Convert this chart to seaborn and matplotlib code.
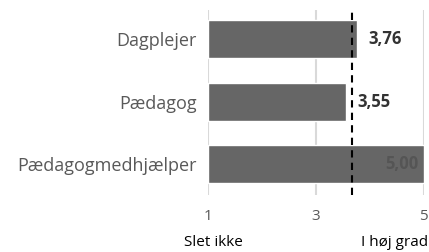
import matplotlib
matplotlib.use("Agg")
import matplotlib.pyplot as plt
import seaborn as sns
import pandas as pd

categories = ["Dagplejer", "Pædagog", "Pædagogmedhjælper"]
values = [3.76, 3.55, 5.00]
labels = ["3,76", "3,55", "5,00"]
mean_line = 3.67
xticks = [1, 3, 5]

sns.set_style("white")
plt.rcParams['font.family'] = ['Open Sans', 'DejaVu Sans']

df = pd.DataFrame({"cat": categories, "val": values})
fig = plt.figure(figsize=(4.29, 2.52), dpi=100)
ax = fig.add_axes([0.485, 0.226, 0.503, 0.734])

for x in xticks:
    ax.axvline(x, color="#d9d9d9", lw=1.5, zorder=0)

sns.barplot(data=df, y="cat", x="val", orient="h", color="#666666",
            saturation=1, width=0.61, ax=ax, zorder=2)
for p in ax.patches:
    w = p.get_width()
    p.set_width(w - 1)
    p.set_x(1)

ax.axvline(mean_line, color="black", lw=1.5, ls=(0, (3.5, 2.5)), zorder=3)

for i, (v, lab) in enumerate(zip(values, labels)):
    if v >= 4.9:
        ax.text(v - 0.1, i, lab, ha="right", va="center", fontsize=12,
                fontweight="bold", color="#555555", zorder=4)
    elif v > mean_line:
        ax.text(v + 0.22, i, lab, ha="left", va="center", fontsize=12,
                fontweight="bold", color="#333333", zorder=4)
    else:
        ax.text(mean_line + 0.1, i, lab, ha="left", va="center", fontsize=12,
                fontweight="bold", color="#333333", zorder=4)

ax.set_xlim(1, 5)
ax.set_ylim(2.5, -0.47)
ax.set_xticks(xticks)
ax.set_xticklabels([str(x) for x in xticks])
ax.set_xlabel("")
ax.set_ylabel("")
ax.tick_params(axis="x", colors="#595959", labelsize=11, length=0, pad=10)
ax.tick_params(axis="y", colors="#595959", labelsize=13, length=0, pad=8)
for s in ax.spines.values():
    s.set_visible(False)

fig.text(213 / 429, 1 - 243 / 252, "Slet ikke", ha="center", va="center",
         fontsize=11, color="black")
fig.text(428 / 429, 1 - 243 / 252, "I høj grad", ha="right", va="center",
         fontsize=11, color="black")

fig.savefig("out.png", dpi=100)
